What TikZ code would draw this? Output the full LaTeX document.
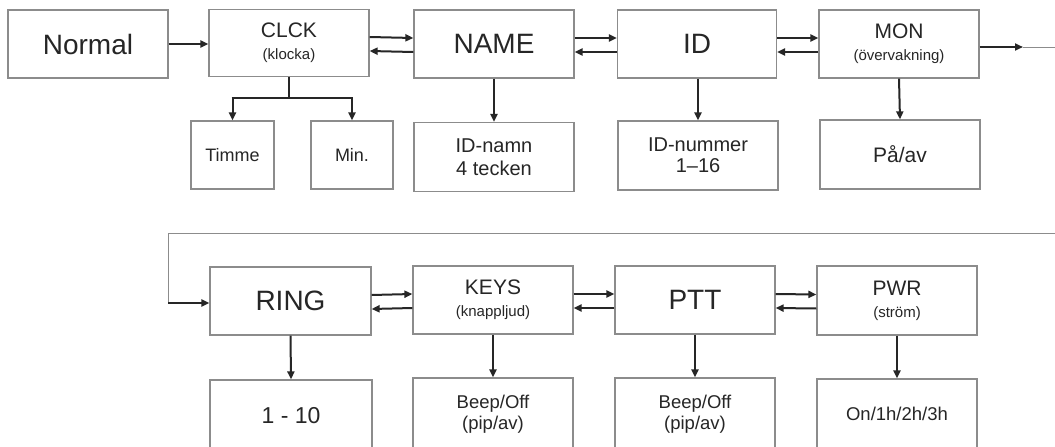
\documentclass[tikz,border=0pt]{standalone}
\usepackage{fontspec}
\setmainfont{Liberation Sans}
\usetikzlibrary{arrows.meta,calc}
\definecolor{boxgray}{HTML}{8C8C8C}
\definecolor{ink}{HTML}{262626}
\newcommand{\fs}[2]{\fontsize{#1}{#2}\selectfont}
\tikzset{
  box/.style={draw=boxgray, line width=1.2pt, fill=white, text=ink, inner sep=0pt, align=center},
  arr/.style={draw=ink, line width=2pt, -{Triangle[length=8pt,width=7pt]}},
  ln/.style={draw=ink, line width=2pt},
  thin/.style={draw=boxgray, line width=1pt},
  big/.style={font=\fs{28}{30}},
  head/.style={font=\fs{21}{22}},
}
\begin{document}
\begin{tikzpicture}[x=1pt,y=-1pt]
\clip (0,0) rectangle (1055,447);
\fill[white] (0,0) rectangle (1055,447);
% top row
\node[box, big, minimum width=160pt, minimum height=68pt] (normal) at (88,44) {Normal};
\node[box, head, minimum width=160pt, minimum height=67pt] (clck) at (289,43) {CLCK\\{\fs{15}{22}(klocka)}};
\node[box, big, minimum width=160pt, minimum height=68pt] (name) at (494,44) {NAME};
\node[box, big, minimum width=159pt, minimum height=68pt] (id) at (697,44) {ID};
\node[box, head, minimum width=160pt, minimum height=68pt] (mon) at (899,44) {MON\\{\fs{15}{22}(övervakning)}};
% top row children
\node[box, minimum width=83pt, minimum height=68pt, font=\fs{18}{20}] (timme) at (232.5,155) {Timme};
\node[box, minimum width=82pt, minimum height=68pt, font=\fs{18}{20}] (min) at (352,155) {Min.};
\node[box, minimum width=160pt, minimum height=69pt, font=\fs{20}{23}] (idnamn) at (494,157) {ID-namn\\4 tecken};
\node[box, minimum width=160pt, minimum height=69pt, font=\fs{20}{21}] (idnum) at (698,155.5) {ID-nummer\\1–16};
\node[box, minimum width=160pt, minimum height=69pt, font=\fs{21}{23}] (paav) at (900,154.5) {På/av};
% bottom row
\node[box, big, minimum width=161pt, minimum height=68pt] (ring) at (290.5,301) {RING};
\node[box, head, minimum width=160pt, minimum height=68pt] (keys) at (493,300) {KEYS\\{\fs{15}{22}(knappljud)}};
\node[box, big, minimum width=160pt, minimum height=68pt] (ptt) at (695,300) {PTT};
\node[box, head, minimum width=160pt, minimum height=69pt] (pwr) at (897,300.5) {PWR\\{\fs{15}{22}(ström)}};
% bottom row children (cut off by the picture edge)
\node[box, minimum width=162pt, minimum height=72pt, font=\fs{23}{25}] (ring1) at (291,416) {1 - 10};
\node[box, minimum width=160pt, minimum height=72pt, font=\fs{18.5}{21}] (keys1) at (493,414) {Beep/Off\\(pip/av)};
\node[box, minimum width=160pt, minimum height=72pt, font=\fs{18.5}{21}] (ptt1) at (695,414) {Beep/Off\\(pip/av)};
\node[box, minimum width=160pt, minimum height=70pt, font=\fs{18.5}{21}] (pwr1) at (897,414) {On/1h/2h/3h};
% horizontal arrows
\draw[arr] (normal.east) -- (clck.west |- normal.east);
\foreach \a/\b in {clck/name, name/id, id/mon, ring/keys, keys/ptt, ptt/pwr}{
  \draw[arr] ($(\a.east)+(0,-6)$) -- ($(\b.west)+(0,-6)$);
  \draw[arr] ($(\b.west)+(0,8)$) -- ($(\a.east)+(0,8)$);
}
% clock split
\coordinate (split) at ($(clck.south)+(0,21)$);
\draw[ln] (clck.south) -- (split);
\draw[ln] ($(timme.north |- split)+(-1,0)$) -- ($(min.north |- split)+(1,0)$);
\draw[arr] (timme.north |- split) -- (timme.north);
\draw[arr] (min.north |- split) -- (min.north);
% vertical arrows
\draw[arr] (name.south) -- (idnamn.north);
\draw[arr] (idnum.north |- id.south) -- (idnum.north);
\draw[arr] (mon.south) -- (paav.north);
\draw[arr] (ring.south) -- (ring1.north);
\draw[arr] (keys.south) -- (keys1.north);
\draw[arr] (ptt.south) -- (ptt1.north);
\draw[arr] (pwr.south) -- (pwr1.north);
% wrap-around
\coordinate (outtip) at (1023,47);
\coordinate (outend) at (1056,47);
\coordinate (backR) at (1056,233);
\coordinate (backL) at (168,233);
\coordinate (backD) at (168,303);
\draw[arr] (mon.east |- outtip) -- (outtip);
\draw[thin] (outtip) -- (outend);
\draw[thin] (backR) -- (backL) -- (backD);
\draw[arr] (backD) -- (ring.west |- backD);
\end{tikzpicture}
\end{document}
